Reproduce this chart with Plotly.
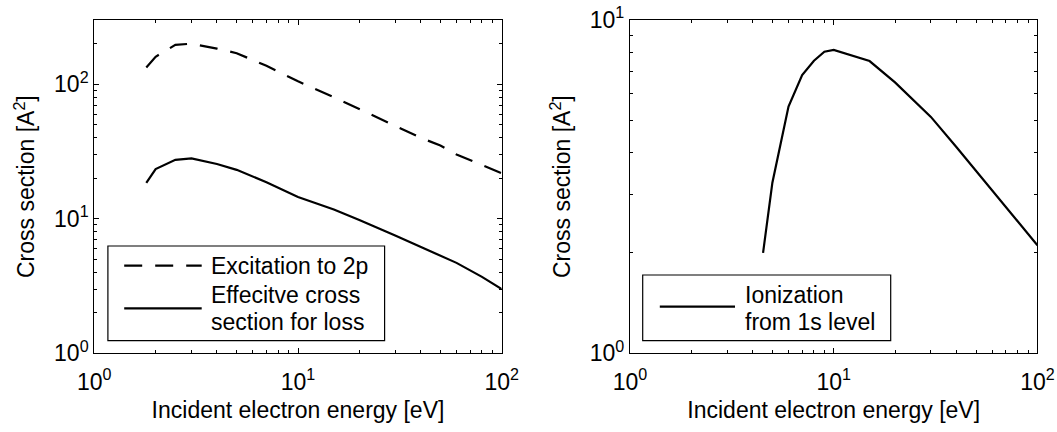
import math
import plotly.graph_objects as go

# ---------------- data ----------------
energy_left = [1.8, 2.0, 2.5, 3.0, 4.0, 5.0, 7.0, 10, 15, 20, 30, 40, 50, 60, 80, 100]
cs_excitation_2p = [133, 160, 196, 200, 184, 170, 137, 105, 80, 65, 49, 40, 35, 30, 25, 21.8]
cs_effective_loss = [18.5, 23.4, 27.4, 28.1, 25.5, 23.1, 18.7, 14.5, 11.7, 9.8, 7.5, 6.2, 5.3, 4.7, 3.7, 3.0]

energy_right = [4.5, 5, 6, 7, 8, 9, 10, 15, 20, 30, 40, 50, 60, 70, 80, 100]
cs_ionization_1s = [2.0, 3.25, 5.5, 6.84, 7.55, 8.03, 8.13, 7.53, 6.5, 5.12, 4.16, 3.52, 3.07, 2.74, 2.48, 2.11]

legend_left = ["Excitation to 2p", "Effecitve cross", "section for loss"]
legend_right = ["Ionization", "from 1s level"]

x_tickvals = [1, 10, 100]
x_ticktext = ["10<sup>0</sup>", "10<sup>1</sup>", "10<sup>2</sup>"]
yl_tickvals = [1, 10, 100]
yl_ticktext = ["10<sup>0</sup>", "10<sup>1</sup>", "10<sup>2</sup>"]
yr_tickvals = [1, 10]
yr_ticktext = ["10<sup>0</sup>", "10<sup>1</sup>"]

x_minor = [2, 3, 4, 5, 6, 7, 8, 9, 20, 30, 40, 50, 60, 70, 80, 90]
yl_minor = [2, 3, 4, 5, 6, 7, 8, 9, 20, 30, 40, 50, 60, 70, 80, 90, 200, 300]
yr_minor = [2, 3, 4, 5, 6, 7, 8, 9]

x_title = "Incident electron energy [eV]"
y_title = "Cross section [A<sup>2</sup>]"

# ---------------- layout constants ----------------
W, H = 1057, 432
FONT = "Liberation Sans, Arial, sans-serif"
FS = 23
DASH = "18px,13px"

def px_x(p):
    return p / W

def px_y(p):
    return 1 - p / H

dom_left = [px_x(94.3), px_x(501.7)]
dom_right = [px_x(630.0), px_x(1037.4)]
dom_y = [px_y(353.3), px_y(20.0)]

fig = go.Figure()
fig.add_trace(go.Scatter(x=energy_left, y=cs_excitation_2p, mode="lines",
                         name=legend_left[0],
                         line=dict(color="black", width=2.2, dash=DASH),
                         xaxis="x", yaxis="y", showlegend=False))
fig.add_trace(go.Scatter(x=energy_left, y=cs_effective_loss, mode="lines",
                         name=" ".join(legend_left[1:]),
                         line=dict(color="black", width=2.2),
                         xaxis="x", yaxis="y", showlegend=False))
fig.add_trace(go.Scatter(x=energy_right, y=cs_ionization_1s, mode="lines",
                         name=" ".join(legend_right),
                         line=dict(color="black", width=2.2),
                         xaxis="x2", yaxis="y2", showlegend=False))

def axis(domain, rng, tickvals, ticktext, minor, anchor, title, standoff, labstand):
    return dict(
        type="log", domain=domain, range=rng, anchor=anchor,
        showline=True, linecolor="black", linewidth=1.2, mirror="allticks",
        ticks="inside", ticklen=5, tickwidth=1, tickcolor="black",
        tickmode="array", tickvals=tickvals, ticktext=ticktext,
        tickfont=dict(family=FONT, size=FS, color="black"),
        ticklabelstandoff=labstand,
        showgrid=False, zeroline=False, automargin=False,
        minor=dict(ticks="inside", ticklen=3, tickwidth=1, tickcolor="black",
                   tickmode="array", tickvals=minor, showgrid=False),
        title=dict(text=title, font=dict(family=FONT, size=FS, color="black"),
                   standoff=standoff),
    )

fig.update_layout(
    width=W, height=H,
    margin=dict(l=0, r=0, t=0, b=0, pad=0),
    paper_bgcolor="white", plot_bgcolor="white",
    font=dict(family=FONT, size=FS, color="black"),
    showlegend=False,
    xaxis=axis(dom_left, [0, 2], x_tickvals, x_ticktext, x_minor, "y", x_title, 7, 8),
    yaxis=axis(dom_y, [0, math.log10(300)], yl_tickvals, yl_ticktext, yl_minor, "x", y_title, 12, 0),
    xaxis2=axis(dom_right, [0, 2], x_tickvals, x_ticktext, x_minor, "y2", x_title, 7, 8),
    yaxis2=axis(dom_y, [0, 1], yr_tickvals, yr_ticktext, yr_minor, "x2", y_title, 12, 0),
)

# ---------------- manual legends ----------------
shapes = []
annotations = []

def legend_box(x0, y0, x1, y1):
    shapes.append(dict(type="rect", xref="paper", yref="paper",
                       x0=px_x(x0), x1=px_x(x1), y0=px_y(y1), y1=px_y(y0),
                       line=dict(color="black", width=1.2), fillcolor="white",
                       layer="above"))

def legend_line(x0, x1, y, dash):
    shapes.append(dict(type="line", xref="paper", yref="paper",
                       x0=px_x(x0), x1=px_x(x1), y0=px_y(y), y1=px_y(y),
                       line=dict(color="black", width=2.2, dash=dash),
                       layer="above"))

def legend_text(x, y, text):
    annotations.append(dict(xref="paper", yref="paper", x=px_x(x), y=px_y(y),
                            xanchor="left", yanchor="middle", showarrow=False,
                            text=text, font=dict(family=FONT, size=FS, color="black")))

legend_box(107.9, 246, 384.6, 340.7)
legend_line(124.2, 201.7, 265.7, DASH)
legend_line(124.2, 201.7, 308.3, "solid")
legend_text(209, 265.5, legend_left[0])
legend_text(209, 295, legend_left[1])
legend_text(209, 322, legend_left[2])

legend_box(642.7, 275, 890.7, 340.7)
legend_line(659.8, 735, 306.7, "solid")
legend_text(742.5, 295, legend_right[0])
legend_text(742.5, 322, legend_right[1])

fig.update_layout(shapes=shapes, annotations=annotations)

fig.write_html("out.html")
